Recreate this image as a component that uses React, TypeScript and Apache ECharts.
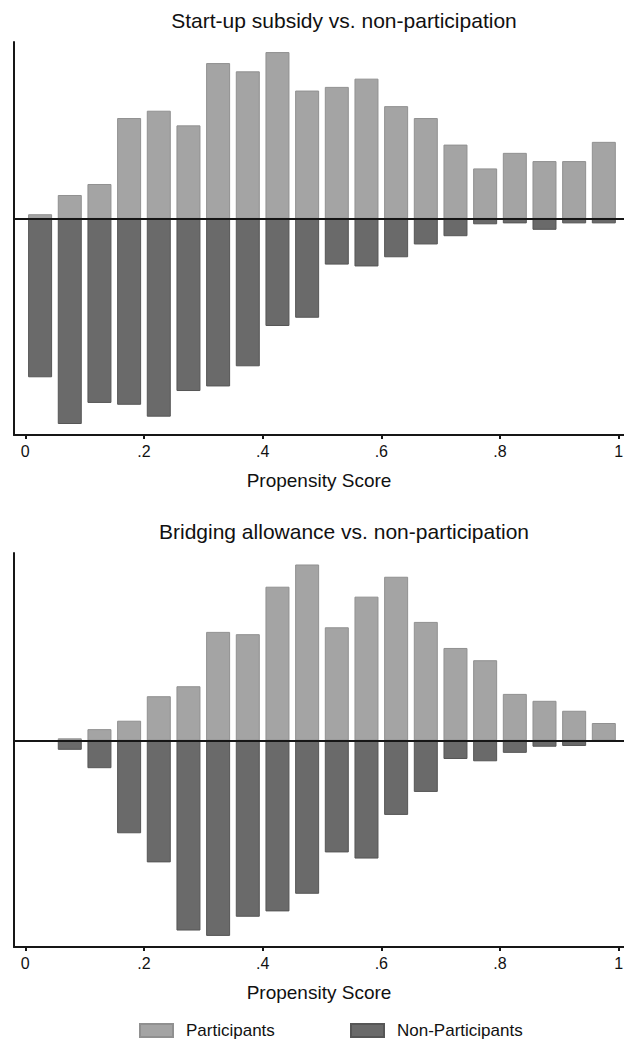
import React, { useEffect, useRef } from "react";
import * as echarts from "echarts";

// Bin midpoints of the propensity-score histogram (bin width .05)
const binMids = [
  0.025, 0.075, 0.125, 0.175, 0.225, 0.275, 0.325, 0.375, 0.425, 0.475,
  0.525, 0.575, 0.625, 0.675, 0.725, 0.775, 0.825, 0.875, 0.925, 0.975,
];

// Panel 1: Start-up subsidy vs. non-participation (densities)
const startupParticipants = [
  0.05, 0.26, 0.38, 1.1, 1.18, 1.02, 1.7, 1.61, 1.82, 1.4,
  1.44, 1.53, 1.23, 1.1, 0.81, 0.55, 0.72, 0.63, 0.63, 0.84,
];
const startupNonParticipants = [
  1.73, 2.24, 2.01, 2.03, 2.16, 1.88, 1.83, 1.61, 1.17, 1.08,
  0.5, 0.52, 0.42, 0.28, 0.19, 0.06, 0.05, 0.12, 0.05, 0.05,
];

// Panel 2: Bridging allowance vs. non-participation (densities)
const bridgingParticipants = [
  0, 0.03, 0.15, 0.26, 0.58, 0.71, 1.42, 1.39, 2.01, 2.3,
  1.48, 1.88, 2.14, 1.55, 1.21, 1.05, 0.61, 0.52, 0.39, 0.23,
];
const bridgingNonParticipants = [
  0, 0.12, 0.36, 1.21, 1.59, 2.48, 2.55, 2.3, 2.23, 2.0,
  1.46, 1.54, 0.97, 0.67, 0.24, 0.27, 0.16, 0.08, 0.07, 0,
];

const panelTitles = [
  "Start-up subsidy vs. non-participation",
  "Bridging allowance vs. non-participation",
];
const tickValues = [0, 0.2, 0.4, 0.6, 0.8, 1];
const tickLabels = ["0", ".2", ".4", ".6", ".8", "1"];
const xAxisName = "Propensity Score";
const seriesNames = ["Participants", "Non-Participants"];

const FONT = "'Liberation Sans', Arial, Helvetica, sans-serif";
const LIGHT = "#a4a4a4";
const LIGHT_BORDER = "#909090";
const DARK = "#6a6a6a";
const DARK_BORDER = "#565656";
const AXIS = "#161616";

export default function App() {
  const ref = useRef<HTMLDivElement>(null);

  useEffect(() => {
    document.body.style.margin = "0";
    if (!ref.current) return;
    const chart = echarts.init(ref.current, null, { renderer: "svg" });

    const panels = [
      { part: startupParticipants, non: startupNonParticipants, yMin: -2.36, yMax: 1.93 },
      { part: bridgingParticipants, non: bridgingNonParticipants, yMin: -2.695, yMax: 2.45 },
    ];

    const grids = [
      { left: 14, right: 0, top: 42, height: 393, outerBoundsMode: "none" },
      { left: 14, right: 0, top: 553, height: 394, outerBoundsMode: "none" },
    ];

    const xAxes: any[] = [];
    const yAxes: any[] = [];
    const series: any[] = [];

    panels.forEach((p, i) => {
      xAxes.push({
        type: "value",
        gridIndex: i,
        min: -0.019,
        max: 1.009,
        position: "bottom",
        axisLine: { show: true, onZero: false, lineStyle: { color: AXIS, width: 2 } },
        axisTick: {
          show: true,
          length: 4,
          customValues: tickValues,
          lineStyle: { color: AXIS, width: 2 },
        },
        axisLabel: {
          customValues: tickValues,
          formatter: (v: number) => {
            const k = tickValues.findIndex((t) => Math.abs(t - v) < 1e-9);
            return k >= 0 ? tickLabels[k] : "";
          },
          fontSize: 16,
          fontFamily: FONT,
          color: "#111",
          margin: 8,
        },
        splitLine: { show: false },
        name: xAxisName,
        nameLocation: "middle",
        nameGap: 36,
        nameTextStyle: { fontSize: 19, fontFamily: FONT, color: "#111" },
      });
      // zero reference line
      xAxes.push({
        type: "value",
        gridIndex: i,
        min: -0.019,
        max: 1.009,
        z: 10,
        axisLine: { show: true, onZero: true, onZeroAxisIndex: i, lineStyle: { color: AXIS, width: 2 } },
        axisTick: { show: false },
        axisLabel: { show: false },
        splitLine: { show: false },
      });
      yAxes.push({
        type: "value",
        gridIndex: i,
        min: p.yMin,
        max: p.yMax,
        position: "left",
        axisLine: { show: true, onZero: false, lineStyle: { color: AXIS, width: 2 } },
        axisTick: { show: false },
        axisLabel: { show: false },
        splitLine: { show: false },
      });
      series.push({
        name: seriesNames[0],
        type: "bar",
        xAxisIndex: 2 * i,
        yAxisIndex: i,
        barWidth: 24,
        barGap: "-100%",
        itemStyle: { color: LIGHT, borderColor: LIGHT_BORDER, borderWidth: 1 },
        data: binMids.map((x, k) => [x, p.part[k]]),
      });
      series.push({
        name: seriesNames[1],
        type: "bar",
        xAxisIndex: 2 * i,
        yAxisIndex: i,
        barWidth: 24,
        barGap: "-100%",
        itemStyle: { color: DARK, borderColor: DARK_BORDER, borderWidth: 1 },
        data: binMids.map((x, k) => [x, -p.non[k]]),
      });
    });

    const legendCommon = {
      top: 1022,
      padding: 0,
      itemWidth: 33,
      itemHeight: 13,
      icon: "rect",
      selectedMode: false,
      textStyle: { fontSize: 17, fontFamily: FONT, color: "#111", padding: [0, 0, 0, 8] },
    };

    chart.setOption({
      animation: false,
      backgroundColor: "#ffffff",
      grid: grids,
      xAxis: xAxes,
      yAxis: yAxes,
      series,
      legend: [
        { ...legendCommon, data: [seriesNames[0]], left: 139 },
        { ...legendCommon, data: [seriesNames[1]], left: 350 },
      ],
      graphic: [
        {
          type: "text",
          x: 344,
          y: 20,
          style: {
            text: panelTitles[0],
            fontSize: 21,
            fontFamily: FONT,
            fill: "#111",
            textAlign: "center",
            textVerticalAlign: "middle",
          },
        },
        {
          type: "text",
          x: 344,
          y: 531,
          style: {
            text: panelTitles[1],
            fontSize: 21,
            fontFamily: FONT,
            fill: "#111",
            textAlign: "center",
            textVerticalAlign: "middle",
          },
        },
      ],
    });

    return () => chart.dispose();
  }, []);

  return <div ref={ref} style={{ width: 624, height: 1039 }} />;
}
